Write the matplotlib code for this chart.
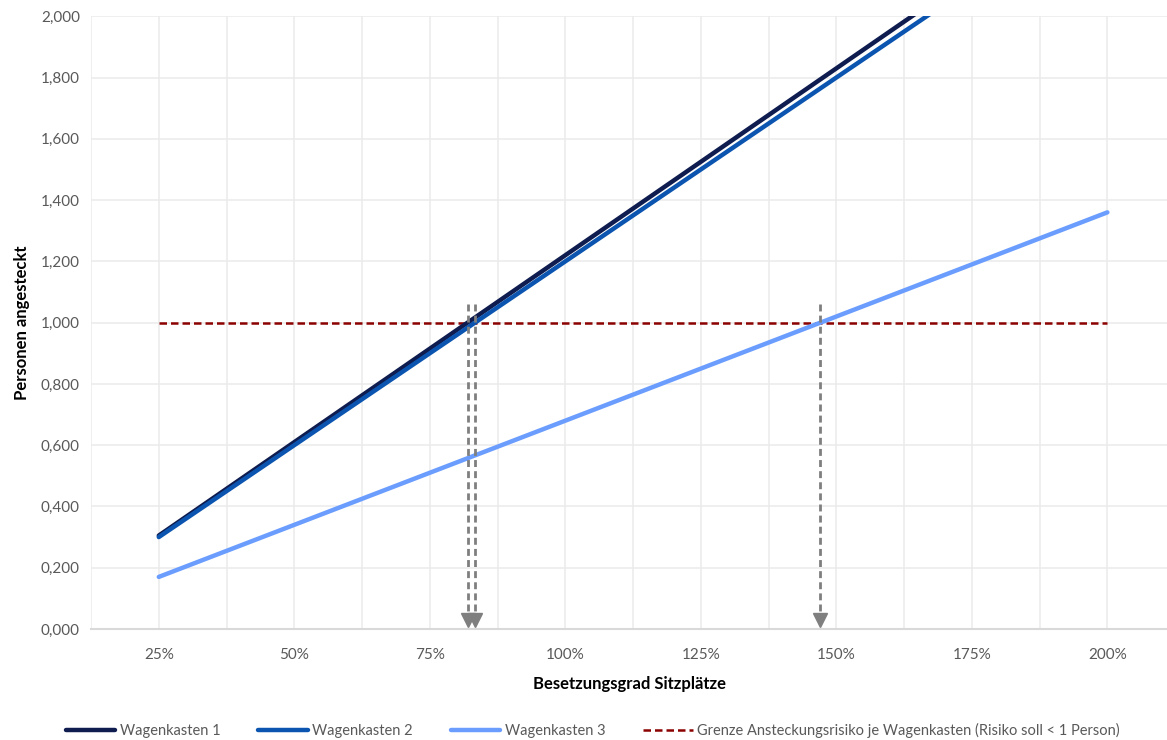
import numpy as np
import matplotlib.pyplot as plt
from matplotlib.ticker import FuncFormatter, MultipleLocator

# Daten
besetzung = [0.25, 0.50, 0.75, 1.00, 1.25, 1.50, 1.75, 2.00]
wagenkasten_1 = [0.305, 0.610, 0.915, 1.220, 1.525, 1.830, 2.135, 2.440]
wagenkasten_2 = [0.300, 0.600, 0.900, 1.200, 1.500, 1.800, 2.100, 2.400]
wagenkasten_3 = [0.170, 0.340, 0.510, 0.680, 0.850, 1.020, 1.190, 1.360]
grenze = [1.0] * len(besetzung)

plt.rcParams['font.family'] = ['Lato', 'DejaVu Sans']

fig = plt.figure(figsize=(11.67, 7.4), dpi=100)
ax = fig.add_axes([0.078, 0.150, 0.922, 0.828])

ax.plot(besetzung, wagenkasten_1, color='#0e1c4f', lw=3.2, label='Wagenkasten 1', solid_capstyle='round', zorder=4)
ax.plot(besetzung, wagenkasten_2, color='#0b55b0', lw=3.2, label='Wagenkasten 2', solid_capstyle='round', zorder=5)
ax.plot(besetzung, wagenkasten_3, color='#6b9dff', lw=3.2, label='Wagenkasten 3', solid_capstyle='round', zorder=4)
ax.plot(besetzung, grenze, color='#8b0000', lw=1.8, ls=(0, (3, 1.6)),
        label='Grenze Ansteckungsrisiko je Wagenkasten (Risiko soll < 1 Person)', zorder=3)

# Pfeile: Schnittpunkte mit der Grenze
for serie in (wagenkasten_1, wagenkasten_2, wagenkasten_3):
    xs = np.interp(1.0, serie, besetzung)
    ax.plot([xs, xs], [1.06, 0.04], color='#7f7f7f', lw=2, ls=(0, (2.5, 1.5)), zorder=6)
    ax.plot([xs], [0.03], marker='v', color='#7f7f7f', markersize=10, zorder=6, clip_on=False)

ax.set_xlim(0.125, 2.11)
ax.set_ylim(0, 2.0)
ax.xaxis.set_major_locator(MultipleLocator(0.25))
ax.xaxis.set_minor_locator(MultipleLocator(0.125))
ax.yaxis.set_major_locator(MultipleLocator(0.2))
ax.xaxis.set_major_formatter(FuncFormatter(lambda v, p: f"{v * 100:.0f}%"))
ax.yaxis.set_major_formatter(FuncFormatter(lambda v, p: f"{v:.3f}".replace('.', ',')))

ax.grid(True, which='both', axis='x', color='#ebebeb', lw=1.1)
ax.grid(True, which='major', axis='y', color='#ebebeb', lw=1.1)
ax.set_axisbelow(True)
for s in ('top', 'right', 'left'):
    ax.spines[s].set_visible(False)
ax.spines['bottom'].set_color('#d9d9d9')
ax.spines['bottom'].set_linewidth(1.5)
ax.tick_params(which='both', length=0, labelsize=11, colors='#595959', pad=12)
ax.tick_params(axis='y', pad=8)
ax.xaxis.set_tick_params(which='major', pad=14)

ax.set_xlabel('Besetzungsgrad Sitzplätze', fontsize=12, fontweight='bold', color='black', labelpad=10)
ax.set_ylabel('Personen angesteckt', fontsize=12, fontweight='bold', color='black', labelpad=8)

fig.legend(loc='center', bbox_to_anchor=(0.508, 0.013), ncol=4, frameon=False, fontsize=10.5,
           handlelength=3.4, columnspacing=2.6, handletextpad=0.3, labelcolor='#595959')

plt.savefig('out.png', dpi=100)
